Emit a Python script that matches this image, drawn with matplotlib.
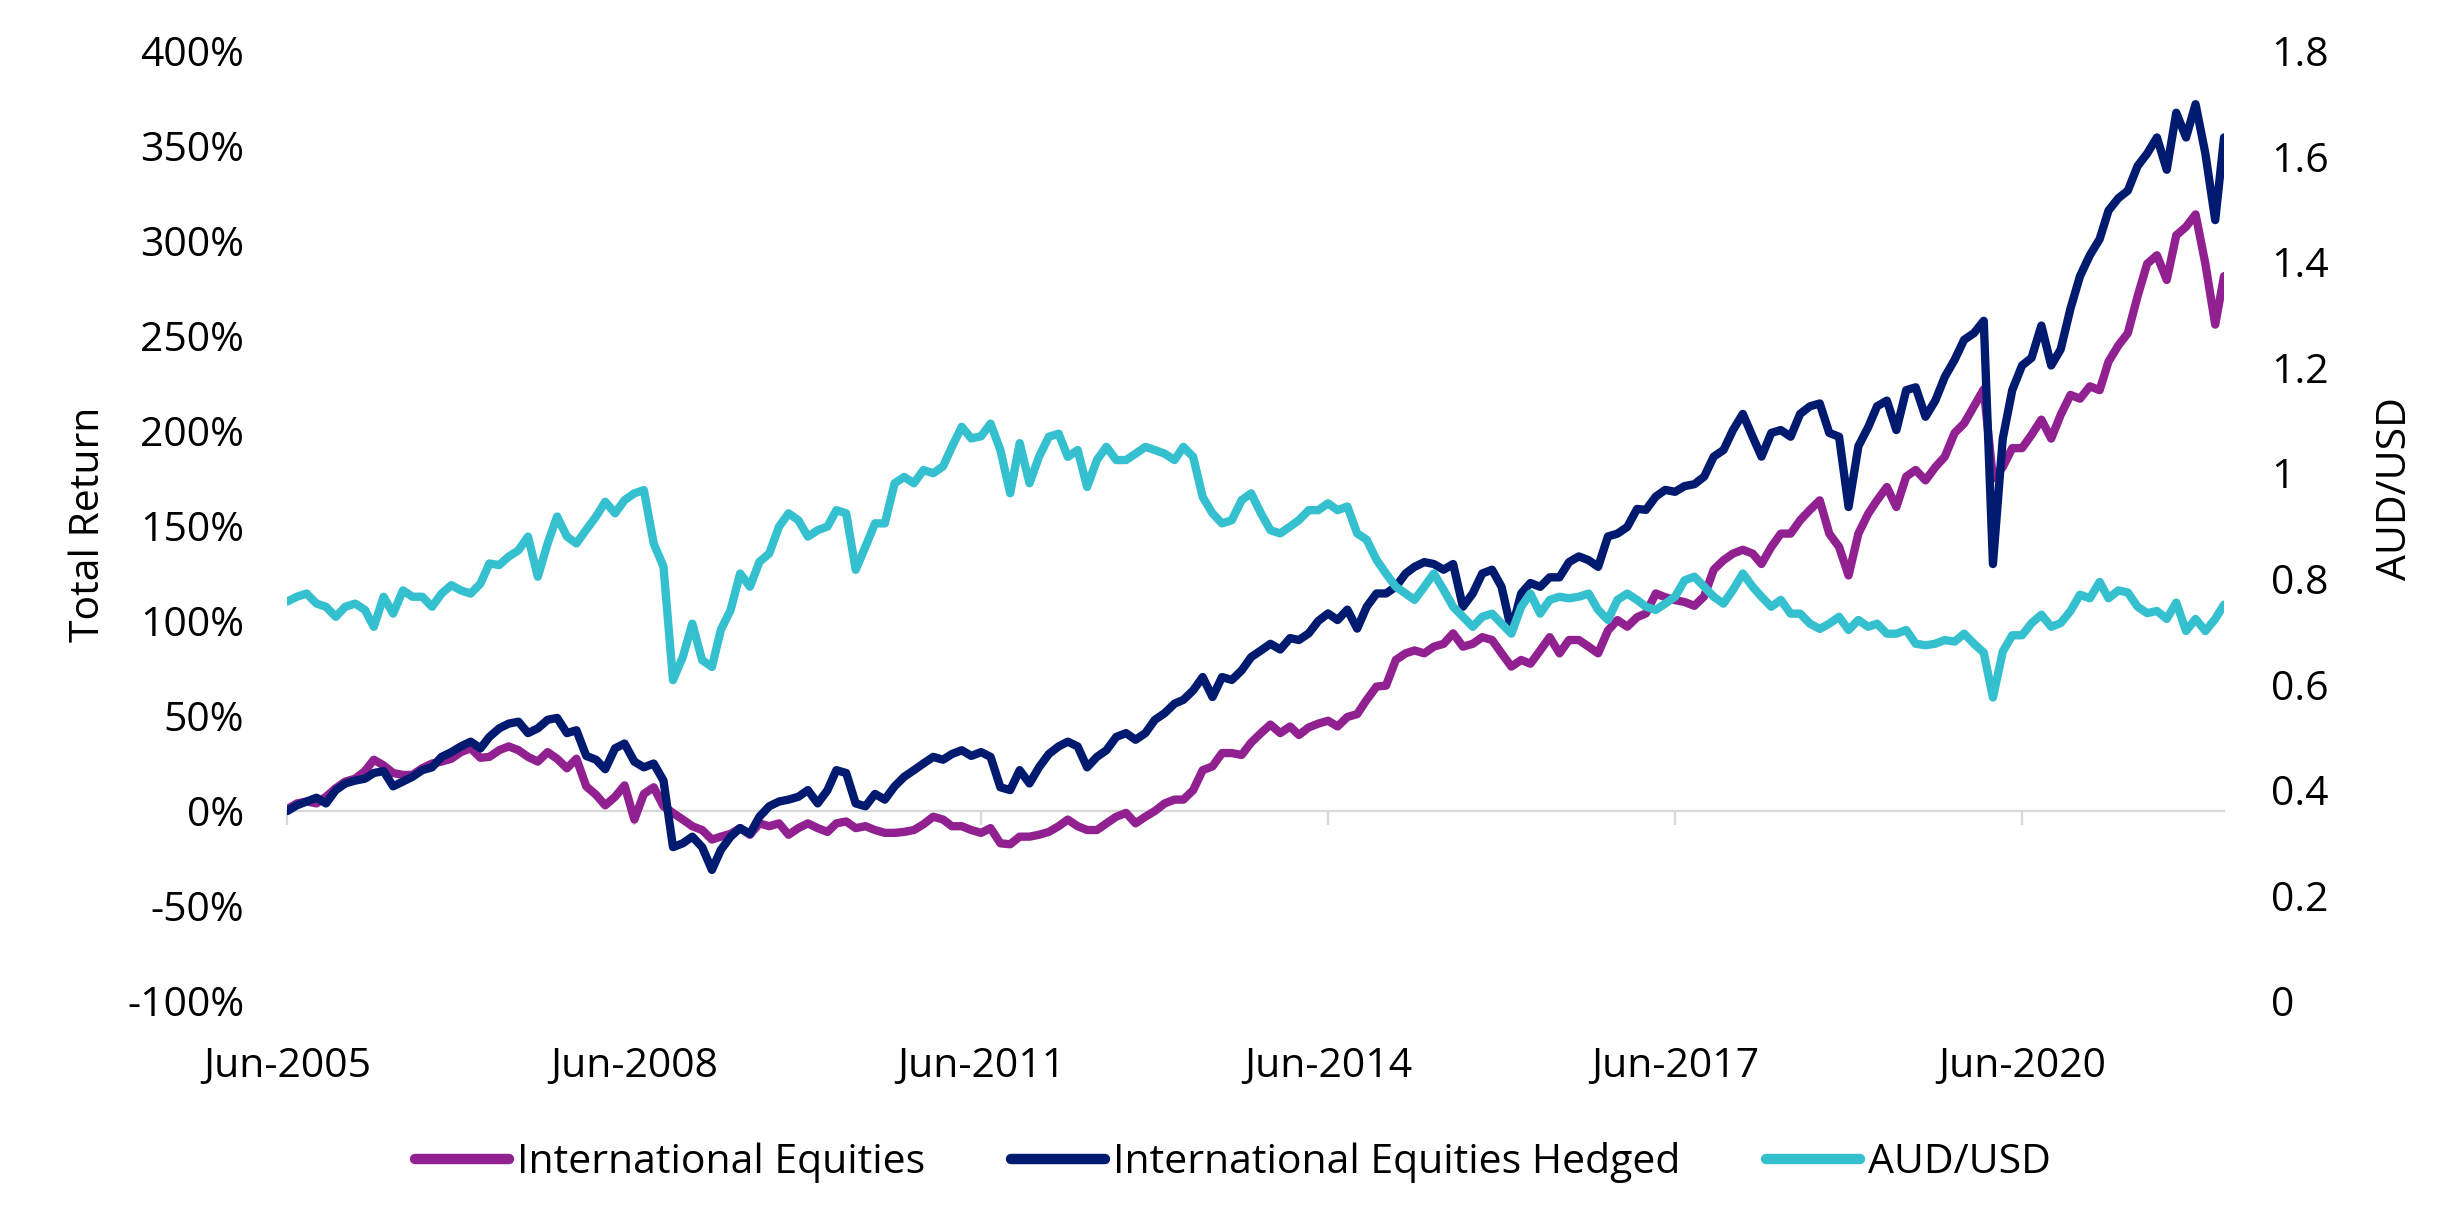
import numpy as np
import pandas as pd
import matplotlib
matplotlib.use('Agg')
import matplotlib.pyplot as plt
import matplotlib.dates as mdates
from matplotlib.ticker import FuncFormatter, MultipleLocator, FixedLocator, NullFormatter

plt.rcParams['font.family'] = ['Open Sans', 'DejaVu Sans']

# -----------------------------
# Data (monthly readings, Jun-2005 .. Mar-2022)
# -----------------------------
dates = pd.date_range("2005-06-01", periods=202, freq="MS")

# Total return, %
intl_equities = [
    1, 4, 5, 4, 7.5, 12, 15.5, 17, 21, 27, 24, 20,
    19, 19, 22.5, 25, 26, 27.5, 31, 33, 28, 28.5, 32, 34,
    32, 28.5, 26, 31, 27.5, 22.5, 27.5, 13, 8.5, 3, 7.5, 13.5,
    -4.5, 9, 12.5, 2.5, -1, -4.5, -8, -10, -15, -13.5, -12, -9,
    -12.5, -6.5, -8, -6.5, -12.5, -9, -6.5, -9, -11, -6.5, -5.5, -9,
    -8, -10, -11.5, -11.5, -11, -10, -7, -3, -4.5, -8, -8, -10,
    -11.5, -9, -17, -17.5, -13.5, -13.5, -12.5, -11, -8, -4.5, -8, -10,
    -10, -6.5, -3, -1, -6.5, -3, 0, 4, 6, 6, 11, 21.5,
    23.5, 30.5, 30.5, 29.5, 36, 41, 45.5, 41, 44.5, 40, 44, 46,
    47.5, 44.5, 49.5, 51, 58.5, 65.5, 66, 79.5, 83, 84.5, 83, 86.5,
    88, 93.5, 86.5, 88, 91.5, 90, 83, 76, 79.5, 77.5, 84.5, 91.5,
    83, 90, 90, 86.5, 83, 95, 100.5, 97, 102, 104, 114.5, 112.5,
    111, 110, 108, 113, 127, 132, 135.5, 137.5, 135.5, 130, 139, 146,
    146, 153, 158.5, 163.5, 146, 139, 124, 146, 156.5, 163.5, 170.5, 160,
    176, 179.5, 174, 181, 186.5, 199, 204, 213, 222, 175, 181, 191,
    191, 198, 206, 196, 208.5, 219, 217, 223.5, 221.5, 236.5, 245, 251.5,
    271, 288, 292.5, 279.5, 303, 307.5, 314, 288, 256, 281.5,
]

intl_equities_hedged = [
    0, 3, 5, 7, 4, 11, 14.5, 16, 17, 20, 21, 13,
    15.5, 18, 21.5, 23, 28.5, 31, 34, 36.5, 33, 39, 43.5, 46,
    47, 41, 43.5, 48, 49, 41, 42.5, 29, 27, 22, 33, 35.5,
    26, 23, 25, 16, -19, -17, -13.5, -19, -31, -20.5, -13.5, -9,
    -12, -3, 2.5, 5, 6, 7.5, 11, 4, 11, 21.5, 20, 4,
    2.5, 9, 6, 13, 18, 21.5, 25, 28.5, 27, 30, 32, 29,
    31, 28.5, 12.5, 11, 21.5, 14.5, 23, 30, 34, 36.5, 34, 23,
    28.5, 32, 39, 41, 37.5, 41, 48, 51.5, 56.5, 58.5, 63.5, 70.5,
    60, 70.5, 69, 74, 81, 84.5, 88, 85, 91, 90, 93.5, 100,
    104, 100.5, 106, 96, 107.5, 114.5, 114.5, 118, 125, 128.5, 131, 130,
    127, 130, 107.5, 114.5, 125, 127, 118, 95, 114.5, 120, 118, 123,
    123, 131, 134, 132, 128.5, 144.5, 146, 149.5, 159, 158.5, 165.5, 169,
    168, 171, 172, 176, 186.5, 190, 200.5, 209, 197, 186.5, 199, 200.5,
    197, 209, 213, 214.5, 199, 197, 160, 192, 202, 213, 216, 200.5,
    221.5, 223, 207.5, 216, 228.5, 237.5, 248, 251.5, 258, 130, 196, 221.5,
    234.5, 238.5, 255.5, 234.5, 243, 264.5, 281.5, 292.5, 301, 316, 322.5, 326.5,
    339.5, 346, 354.5, 337.5, 367.5, 354.5, 372, 346, 311, 354.5,
]

# AUD/USD exchange rate
aud_usd = [
    0.757, 0.766, 0.772, 0.753, 0.747, 0.728, 0.747, 0.753, 0.741, 0.709, 0.766, 0.734,
    0.778, 0.766, 0.766, 0.747, 0.772, 0.788, 0.778, 0.772, 0.791, 0.829, 0.826, 0.842,
    0.854, 0.880, 0.804, 0.867, 0.918, 0.880, 0.867, 0.893, 0.918, 0.946, 0.924, 0.949,
    0.962, 0.968, 0.867, 0.823, 0.608, 0.652, 0.715, 0.646, 0.633, 0.703, 0.741, 0.810,
    0.785, 0.832, 0.848, 0.899, 0.924, 0.911, 0.880, 0.892, 0.899, 0.930, 0.924, 0.817,
    0.861, 0.905, 0.905, 0.981, 0.993, 0.981, 1.006, 1.000, 1.013, 1.050, 1.088, 1.066,
    1.070, 1.094, 1.044, 0.962, 1.057, 0.981, 1.031, 1.069, 1.075, 1.031, 1.044, 0.974,
    1.025, 1.050, 1.025, 1.025, 1.037, 1.050, 1.044, 1.037, 1.025, 1.050, 1.031, 0.955,
    0.924, 0.905, 0.911, 0.949, 0.962, 0.924, 0.892, 0.886, 0.899, 0.911, 0.930, 0.930,
    0.943, 0.930, 0.937, 0.886, 0.874, 0.836, 0.810, 0.785, 0.772, 0.760, 0.785, 0.810,
    0.779, 0.747, 0.728, 0.709, 0.728, 0.734, 0.715, 0.696, 0.747, 0.772, 0.734, 0.760,
    0.766, 0.763, 0.766, 0.772, 0.741, 0.722, 0.760, 0.772, 0.760, 0.747, 0.741, 0.753,
    0.766, 0.797, 0.804, 0.785, 0.766, 0.753, 0.779, 0.810, 0.785, 0.766, 0.747, 0.760,
    0.734, 0.734, 0.715, 0.705, 0.715, 0.728, 0.703, 0.722, 0.709, 0.715, 0.696, 0.696,
    0.703, 0.677, 0.674, 0.677, 0.684, 0.681, 0.696, 0.677, 0.660, 0.575, 0.662, 0.693,
    0.693, 0.716, 0.732, 0.709, 0.716, 0.739, 0.770, 0.763, 0.794, 0.763, 0.778, 0.774,
    0.747, 0.735, 0.739, 0.724, 0.755, 0.701, 0.724, 0.701, 0.724, 0.751,
]

tick_dates = pd.date_range("2005-06-01", "2020-06-01", freq="36MS")

PURPLE = "#912190"
NAVY = "#001A70"
CYAN = "#34C0CE"
GRID = "#D9D9D9"
FS = 29.5
LW = 6

# -----------------------------
# Plot
# -----------------------------
fig = plt.figure(figsize=(24.54, 12.29), dpi=100)
ax = fig.add_axes([0.1171, 0.1855, 0.7892, 0.7730])

line_style = dict(lw=LW, solid_capstyle="round", solid_joinstyle="round")
l1, = ax.plot(dates, intl_equities, color=PURPLE, label="International Equities", zorder=3, **line_style)
l2, = ax.plot(dates, intl_equities_hedged, color=NAVY, label="International Equities Hedged", zorder=4, **line_style)

ax2 = ax.twinx()
l3, = ax2.plot(dates, aud_usd, color=CYAN, label="AUD/USD", **line_style)

# left axis
ax.set_ylim(-100, 400)
ax.yaxis.set_major_locator(MultipleLocator(50))
ax.yaxis.set_major_formatter(FuncFormatter(lambda v, _: f"{v:.0f}%"))
ax.set_xlim(dates[0], dates[-1])
ax.xaxis.set_major_locator(FixedLocator(mdates.date2num(tick_dates)))
ax.xaxis.set_major_formatter(mdates.DateFormatter("%b-%Y"))
ax.tick_params(axis="y", length=0, pad=31, labelsize=FS)
ax.tick_params(axis="x", length=0, pad=33, labelsize=FS)
for s in ax.spines.values():
    s.set_visible(False)
ax.set_ylabel("Total Return", fontsize=FS, va="center")
ax.yaxis.set_label_coords(-0.1024, 0.502)

# zero line with the date ticks hanging below it
sec = ax.secondary_xaxis(0, transform=ax.transData)
sec.xaxis.set_major_locator(FixedLocator(mdates.date2num(tick_dates)))
sec.xaxis.set_major_formatter(NullFormatter())
sec.tick_params(axis="x", length=10, width=1.7, color=GRID, direction="out")
sec.spines["bottom"].set_color(GRID)
sec.spines["bottom"].set_linewidth(1.7)

# right axis
ax2.set_ylim(0, 1.8)
ax2.set_yticks(np.arange(0, 1.81, 0.2))
ax2.yaxis.set_major_formatter(FuncFormatter(lambda v, _: f"{v:g}"))
ax2.tick_params(axis="y", length=0, pad=34, labelsize=FS)
for s in ax2.spines.values():
    s.set_visible(False)
ax2.set_ylabel("AUD/USD", fontsize=FS, va="center")
ax2.yaxis.set_label_coords(1.0888, 0.539)

leg = fig.legend(
    [l1, l2, l3],
    [l1.get_label(), l2.get_label(), l3.get_label()],
    loc="center",
    bbox_to_anchor=(0.5024, 0.054),
    ncol=3,
    frameon=False,
    fontsize=FS,
    handlelength=2.3,
    handletextpad=0.18,
    columnspacing=2.1,
)
for h in leg.legend_handles:
    h.set_linewidth(7.5)

fig.savefig("out.png", dpi=100)
